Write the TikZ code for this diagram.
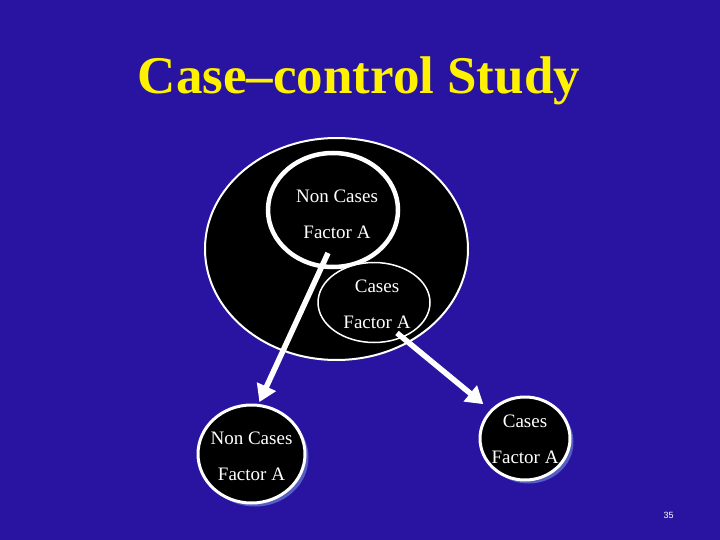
\documentclass[tikz,border=0pt]{standalone}
\usepackage{fontspec}
\setmainfont{Liberation Serif}
\setsansfont{Liberation Sans}
\usepackage{xcolor}
\usepackage{tikz}
\usetikzlibrary{shapes,arrows.meta,positioning,shadows}

\definecolor{slideBlue}{RGB}{40,20,160}
\definecolor{shadowBlue}{RGB}{85,95,195}

\begin{document}
\begin{tikzpicture}[
    x=1pt, y=-1pt,
    font=\fontsize{19}{36}\selectfont,
    title/.style={text=yellow, font=\fontsize{53}{60}\selectfont\bfseries, anchor=base},
    population/.style={
        ellipse, draw=white, line width=2pt, fill=black, inner sep=0pt
    },
    group/.style={
        ellipse, draw=white, fill=black, inner sep=0pt
    },
    sample/.style={
        group, line width=3pt,
        drop shadow={shadow xshift=3.5pt, shadow yshift=-3.5pt, fill=shadowBlue, opacity=1}
    },
    groupText/.style={text=white, align=center, inner sep=0pt},
    pick/.style={
        -{Triangle[length=17pt, width=20pt]}, draw=white, line width=5.5pt
    },
    pageNo/.style={text=white, font=\sffamily\fontsize{9}{10}\selectfont}
]

% Slide background
\path[use as bounding box, fill=slideBlue] (0,0) rectangle (720,540);

% Title
\node[title] (ttl) at (359,94) {Case--control Study};

% Study population
\node[population, minimum width=263pt, minimum height=222pt] (pop) at (336.5,249) {};

% Groups in the population
\node[group, line width=4.5pt, minimum width=130pt, minimum height=114pt] (nonCases) at (333,210) {};
\node[groupText] (nonCasesText) at (337,214) {Non Cases\\Factor A};

\node[group, line width=1.5pt, minimum width=112pt, minimum height=80pt] (cases) at (374,302.5) {};
\node[groupText] (casesText) at (377,304) {Cases\\Factor A};

% Samples
\node[sample, minimum width=107pt, minimum height=98pt] (ctrlSample) at (251.5,454) {};
\node[groupText] (ctrlSampleText) at (251.5,456.5) {Non Cases\\Factor A};

\node[sample, minimum width=90pt, minimum height=83pt] (caseSample) at (525,438.5) {};
\node[groupText] (caseSampleText) at (525,439) {Cases\\Factor A};

% Sampling arrows
\coordinate (nonCasesOut) at (328,253);
\coordinate (casesOut) at (397,333);
\draw[pick, shorten >=2pt] (nonCasesOut) -- (ctrlSample.82);
\draw[pick, shorten >=9pt] (casesOut) -- (caseSample);

% Page number
\node[pageNo] (page) at (668.5,515.5) {35};

\end{tikzpicture}
\end{document}
